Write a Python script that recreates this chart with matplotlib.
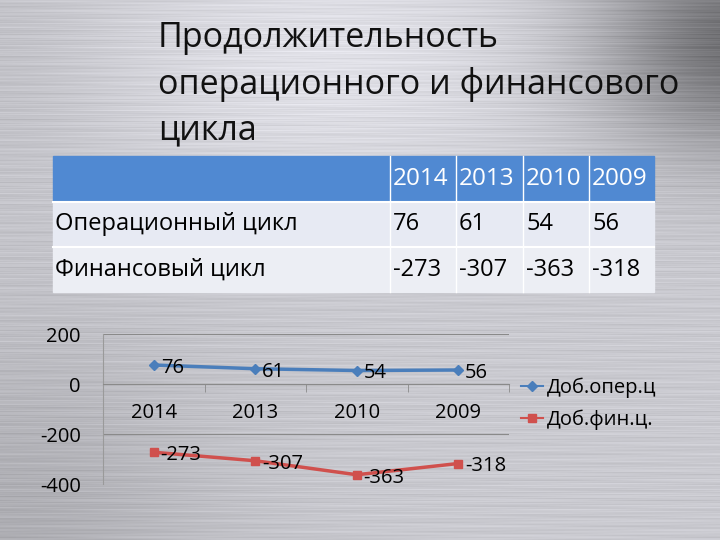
import numpy as np
import matplotlib.pyplot as plt
from matplotlib.patches import Rectangle
from matplotlib.lines import Line2D

plt.rcParams['font.family'] = ['Open Sans', 'DejaVu Sans']

# Data
title_lines = ['Продолжительность', 'операционного и финансового', 'цикла']
years = ['2014', '2013', '2010', '2009']
row_names = ['Операционный цикл', 'Финансовый цикл']
oper_cycle = [76, 61, 54, 56]
fin_cycle = [-273, -307, -363, -318]
legend_names = ['Доб.опер.ц', 'Доб.фин.ц.']
y_ticks = [200, 0, -200, -400]

W, H = 720, 540
fig = plt.figure(figsize=(7.2, 5.4), dpi=100)

# background axes in pixel coordinates
bg = fig.add_axes([0, 0, 1, 1])
bg.set_xlim(0, W)
bg.set_ylim(H, 0)
bg.axis('off')

# brushed metal gradient
xx, yy = np.meshgrid(np.arange(W), np.arange(H))
v = (0.80
     + 0.09 * np.exp(-((xx - 330) / 230.0) ** 2 - ((yy - 60) / 130.0) ** 2)
     - 0.36 * np.exp(-((xx - 740) / 140.0) ** 2 - ((yy - 40) / 110.0) ** 2)
     - 0.11 * np.exp(-(xx / 220.0) ** 2 - ((yy - 540) / 220.0) ** 2)
     - 0.04 * np.exp(-(xx / 120.0) ** 2 - ((yy - 60) / 150.0) ** 2))
streak = (0.025 * np.sin(yy * 1.7) * np.sin(xx / 37.0 + yy * 0.3)
          + 0.018 * np.sin(yy * 0.61 + 1.3) * np.cos(xx / 61.0 - yy * 0.11)
          + 0.012 * np.sin(yy * 3.1))
v = np.clip(v + streak, 0, 1)
img = np.dstack([v * 0.99, v * 0.99, np.clip(v * 1.02, 0, 1)])
bg.imshow(img, extent=(0, W, H, 0), aspect='auto', zorder=0)

# title
for i, line in enumerate(title_lines):
    bg.text(158, 38 + i * 46, line, fontsize=24.5, color='#111111',
            ha='left', va='center', zorder=2)

# table
col_x = [53, 390, 456, 523, 589, 654]
row_y = [156, 202, 247, 292]
bg.add_patch(Rectangle((col_x[0], row_y[0]), col_x[-1] - col_x[0],
                       row_y[1] - row_y[0], color='#5089d2', zorder=1))
row_colors = ['#e7eaf3', '#eceef4']
for r in range(2):
    bg.add_patch(Rectangle((col_x[0], row_y[r + 1]), col_x[-1] - col_x[0],
                           row_y[r + 2] - row_y[r + 1],
                           color=row_colors[r], zorder=1))
for x in col_x[1:-1]:
    bg.plot([x, x], [row_y[0], row_y[-1]], color='white', lw=1, zorder=1.5)
for y in row_y[1:-1]:
    bg.plot([col_x[0], col_x[-1]], [y, y], color='white', lw=1.5, zorder=1.5)

for j, yr in enumerate(years):
    bg.text(col_x[j + 1] + 3, (row_y[0] + row_y[1]) / 2, yr, fontsize=17.5,
            color='white', ha='left', va='center', zorder=2)
for r, (name, vals) in enumerate(zip(row_names, [oper_cycle, fin_cycle])):
    yc = (row_y[r + 1] + row_y[r + 2]) / 2
    bg.text(col_x[0] + 2, yc, name, fontsize=17, color='black',
            ha='left', va='center', zorder=2)
    for j, val in enumerate(vals):
        bg.text(col_x[j + 1] + 3, yc, str(val), fontsize=17, color='black',
                ha='left', va='center', zorder=2)

# line chart
ax = fig.add_axes([103 / W, 1 - 484 / H, 406 / W, 150 / H])
ax.patch.set_alpha(0)
xs = np.arange(len(years))
blue = '#4a7ebb'
red = '#d0504d'
ax.plot(xs, oper_cycle, color=blue, lw=2.5, marker='D', ms=5, zorder=3)
ax.plot(xs, fin_cycle, color=red, lw=2.5, marker='s', ms=6, zorder=3)
for x, val in zip(xs, oper_cycle):
    ax.annotate(str(val), (x, val), xytext=(5, -2), textcoords='offset points',
                ha='left', va='center', fontsize=14.5)
for x, val in zip(xs, fin_cycle):
    ax.annotate(str(val), (x, val), xytext=(5, -2), textcoords='offset points',
                ha='left', va='center', fontsize=14.5)

ax.set_xlim(-0.5, len(years) - 0.5)
ax.set_ylim(-400, 200)
ax.set_yticks(y_ticks)
ax.set_yticklabels([str(t) for t in y_ticks])
ax.tick_params(axis='y', length=0, pad=16, labelsize=14.5)
ax.grid(axis='y', color='#8a8a8a', lw=0.8)
ax.set_xticks(xs)
ax.set_xticklabels(years)
ax.set_xticks(np.arange(len(years) + 1) - 0.5, minor=True)
ax.tick_params(axis='x', which='major', length=0, pad=14, labelsize=14.5)
ax.tick_params(axis='x', which='minor', length=6, color='#8a8a8a', direction='out')
ax.spines['bottom'].set_position(('data', 0))
ax.spines['bottom'].set_color('#8a8a8a')
ax.spines['left'].set_color('#9a9a9a')
ax.spines['top'].set_visible(False)
ax.spines['right'].set_visible(False)
ax.set_axisbelow(True)

handles = [Line2D([], [], color=blue, lw=1.5, marker='D', ms=5),
           Line2D([], [], color=red, lw=1.5, marker='s', ms=6)]
fig.legend(handles, legend_names, loc='upper left',
           bbox_to_anchor=(521 / W, 1 - 378 / H), frameon=False,
           fontsize=14.5, handlelength=1.1, handletextpad=0.2,
           labelspacing=0.55, borderpad=0, borderaxespad=0)

fig.savefig('out.png', dpi=100)
